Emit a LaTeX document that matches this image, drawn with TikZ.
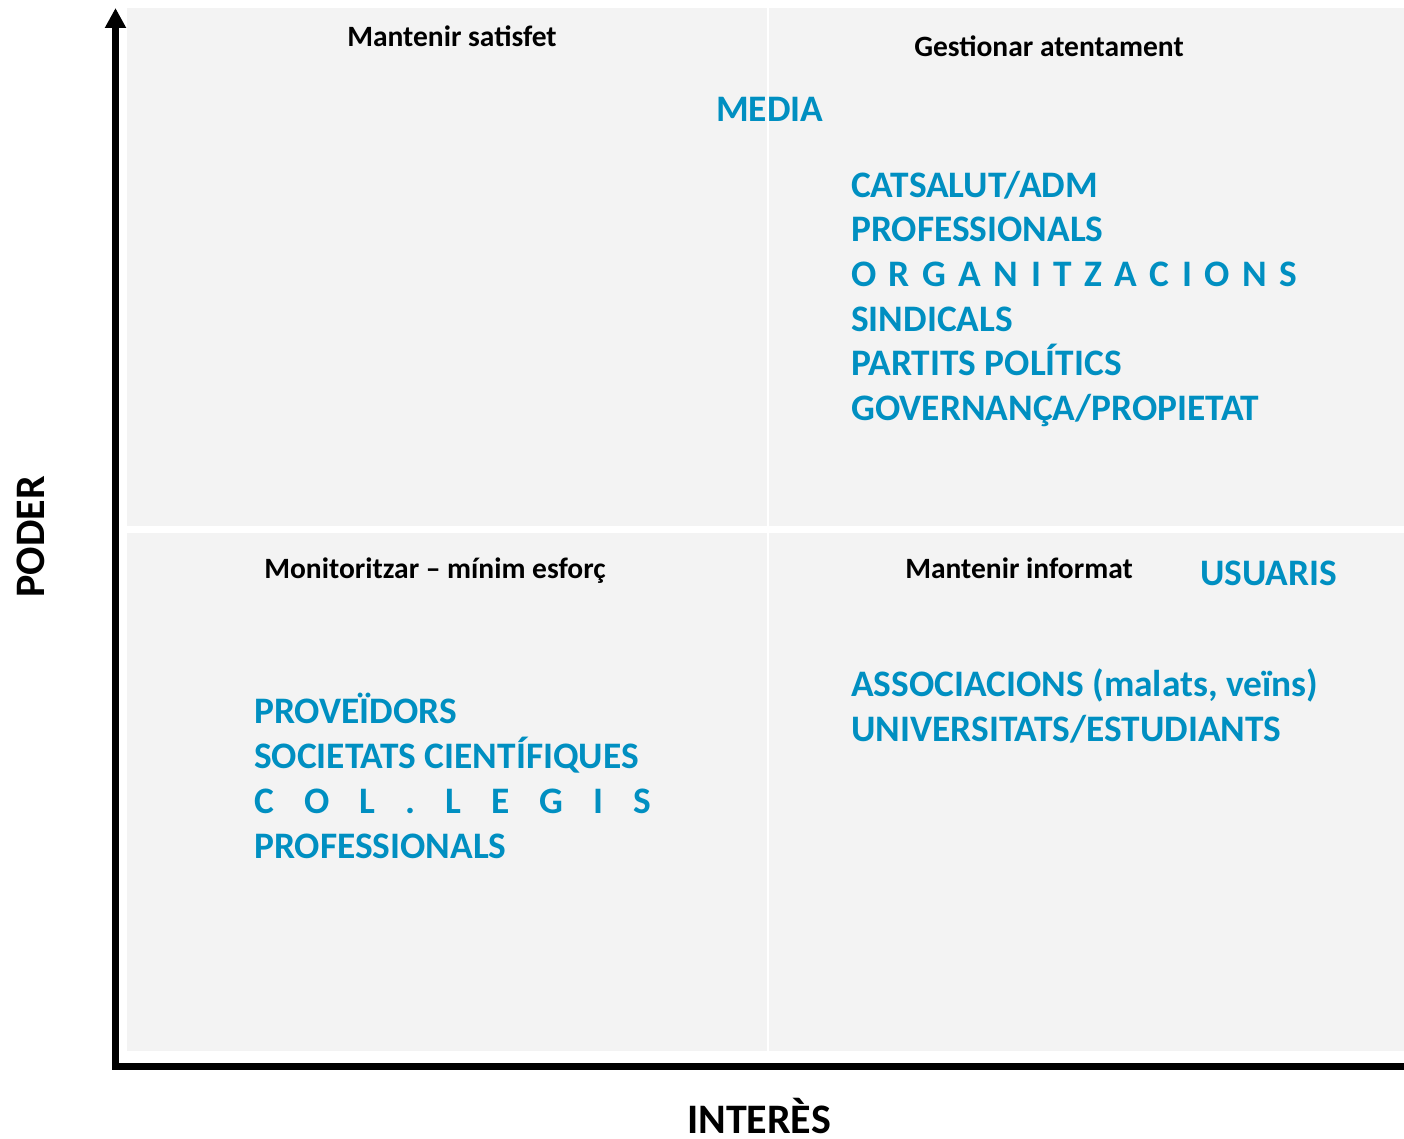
\documentclass[tikz,border=0pt]{standalone}
\usepackage{fontspec}
\setmainfont{Carlito}
\usetikzlibrary{arrows.meta}
\definecolor{blauclar}{RGB}{0,143,193}
\definecolor{fonsgris}{RGB}{243,243,243}

\begin{document}
\begin{tikzpicture}[x=1pt, y=-1pt,
    grup/.style={anchor=base west, inner sep=0pt, align=left, text=blauclar,
      font=\fontsize{37.4}{44.7}\selectfont\bfseries},
    quadrant/.style={anchor=base, inner sep=0pt, font=\fontsize{29.5}{34}\selectfont\bfseries},
    eixnom/.style={anchor=base, inner sep=0pt, font=\fontsize{42}{48}\selectfont\bfseries}]

    \useasboundingbox (0,0) rectangle (1404,1139);

    % quadrants
    \fill[fonsgris] (127,8) rectangle (767,526);
    \fill[fonsgris] (769,8) rectangle (1404,526);
    \fill[fonsgris] (127,533) rectangle (767,1051);
    \fill[fonsgris] (769,533) rectangle (1404,1051);

    % eixos
    \coordinate (tip) at (115.5,8);
    \coordinate (origen) at (115.5,1066.5);
    \coordinate (fi) at (1404,1066.5);
    \draw [line width=7pt, {Triangle[width=20pt,length=20pt]}-] (tip) -- (origen) -- (fi);

    \node[eixnom, rotate=90] (poder) at (44,537) {PODER};
    \node[eixnom] (interes) at (759,1133) {INTERÈS};

    \node[quadrant] (satisfet) at (452,47) {Mantenir satisfet};
    \node[quadrant] (atentament) at (1049,57) {Gestionar atentament};
    \node[quadrant] (monitoritzar) at (435,578) {Monitoritzar – mínim esforç};
    \node[quadrant] (informat) at (1019,578) {Mantenir informat};

    % blocs de text: la base es la de la darrera linia
    \node[grup] (media) at (716,122) {MEDIA};
    \node[grup] (gestionar) at (851,420.5) {CATSALUT/ADM\\PROFESSIONALS\\
      \makebox[446pt][s]{O\hfill R\hfill G\hfill A\hfill N\hfill I\hfill T\hfill Z\hfill A\hfill C\hfill I\hfill O\hfill N\hfill S}\\
      SINDICALS\\PARTITS POLÍTICS\\GOVERNANÇA/PROPIETAT};
    \node[grup] (usuaris) at (1200,585) {USUARIS};
    \node[grup] (informar) at (851,741) {ASSOCIACIONS (malats, veïns)\\UNIVERSITATS/ESTUDIANTS};
    \node[grup] (vigilar) at (254,858) {PROVEÏDORS\\SOCIETATS CIENTÍFIQUES\\
      \makebox[397pt][s]{C\hfill O\hfill L\hfill .\hfill L\hfill E\hfill G\hfill I\hfill S}\\
      PROFESSIONALS};

\end{tikzpicture}
\end{document}
